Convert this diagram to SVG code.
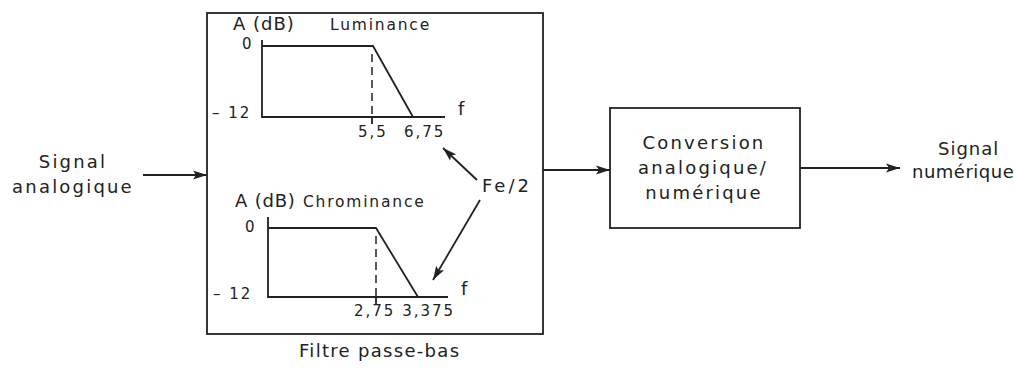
<svg xmlns="http://www.w3.org/2000/svg" width="1014" height="369" viewBox="0 0 1014 369">
<style>
text{font-family:"DejaVu Sans","Liberation Sans",sans-serif;font-size:18px;fill:#222}
.big{font-size:18px;letter-spacing:2.2px}
.lab{font-size:15.5px;letter-spacing:1.8px}
.num{font-size:15px;letter-spacing:2px}
.ln{stroke:#222;stroke-width:1.8;fill:none}
.dash{stroke:#222;stroke-width:1.5;stroke-dasharray:8,5;fill:none}
</style>
<defs>
<marker id="ah" viewBox="0 0 14 10" refX="14" refY="5" markerWidth="14" markerHeight="10" markerUnits="userSpaceOnUse" orient="auto"><path d="M0,0.5 L14,5 L0,9.5 L3,5 z" fill="#222"/></marker>
</defs>
<g id="input">
<text class="big" x="73" y="168" text-anchor="middle">Signal</text>
<text class="big" x="73" y="193" text-anchor="middle">analogique</text>
</g>
<g id="filter">
<rect x="207" y="13" width="336" height="321" class="ln"/>
<g id="luminance">
<text x="233" y="30" font-size="16" letter-spacing="1">A (dB)</text>
<text class="lab" x="330" y="30">Luminance</text>
<text class="num" x="242" y="49">0</text>
<text class="num" x="212" y="118" letter-spacing="2.5">– 12</text>
<path d="M262,40 V117 H445" class="ln"/>
<path d="M262,46 H373 L413,117" class="ln"/>
<path d="M372,54 V117" class="dash"/>
<path d="M372,117 V124" class="ln"/>
<text class="num" x="358" y="137" letter-spacing="4">5,5</text>
<text class="num" x="404" y="137" letter-spacing="3.5">6,75</text>
<text x="458" y="115" font-size="15">f</text>
</g>
<g id="chrominance">
<text x="235" y="207" font-size="16" letter-spacing="0.8">A (dB)</text>
<text class="lab" x="303" y="207">Chrominance</text>
<text class="num" x="245" y="232">0</text>
<text class="num" x="213" y="299" letter-spacing="2.8">– 12</text>
<path d="M268,217 V297 H448" class="ln"/>
<path d="M268,228 H376 L418,297" class="ln"/>
<path d="M376,236 V297" class="dash"/>
<path d="M376,297 V305" class="ln"/>
<text class="num" x="354" y="316" letter-spacing="2.2">2,75 3,375</text>
<text x="461" y="295" font-size="15">f</text>
</g>
<text x="482" y="192" font-size="17" letter-spacing="3">Fe/2</text>
<text x="299" y="357" font-size="17" letter-spacing="1.3">Filtre passe-bas</text>
</g>
<g id="converter">
<rect x="610" y="108" width="190" height="120" class="ln"/>
<text class="big" x="704" y="149" text-anchor="middle">Conversion</text>
<text class="big" x="703" y="174" text-anchor="middle">analogique/</text>
<text class="big" x="704" y="199" text-anchor="middle">numérique</text>
</g>
<g id="output">
<text x="938" y="155" font-size="15" letter-spacing="1">Signal</text>
<text x="912" y="178" font-size="14" letter-spacing="0.5">numérique</text>
</g>
<g id="connectors">
<path d="M143,175 H207" class="ln" marker-end="url(#ah)"/>
<path d="M543,170 H610" class="ln" marker-end="url(#ah)"/>
<path d="M800,168 H900" class="ln" marker-end="url(#ah)"/>
<path d="M477,180 L443,148" class="ln" marker-end="url(#ah)"/>
<path d="M480,200 L433,280" class="ln" marker-end="url(#ah)"/>
</g>
</svg>
